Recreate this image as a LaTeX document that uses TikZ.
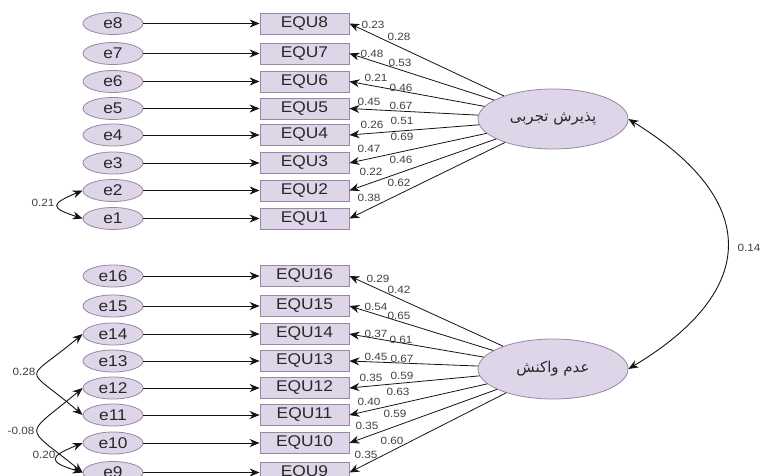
\documentclass[tikz,border=0pt]{standalone}
\usepackage{fontspec}
\setmainfont{Liberation Sans}[FakeStretch=1.12]
\newfontfamily\arabicfont[Script=Arabic]{DejaVu Sans}
\TeXXeTstate=1
\usetikzlibrary{arrows.meta,shapes.geometric}
\definecolor{nodefill}{RGB}{222,214,232}
\definecolor{nodedraw}{RGB}{150,136,166}
\definecolor{txt}{RGB}{40,40,40}
\definecolor{lbltxt}{RGB}{65,65,65}
\definecolor{arrcol}{RGB}{20,20,20}
\tikzset{
  errnode/.style={ellipse, draw=nodedraw, fill=nodefill, minimum width=60pt, minimum height=22pt, inner sep=0pt, line width=0.8pt, text=txt, font=\fontsize{15.5}{15.5}\selectfont},
  obsnode/.style={rectangle, draw=nodedraw, fill=nodefill, minimum width=89pt, minimum height=21pt, inner sep=0pt, line width=0.8pt, text=txt, font=\fontsize{15.5}{15.5}\selectfont},
  latnode/.style={ellipse, draw=nodedraw, fill=nodefill, minimum width=150pt, minimum height=60pt, inner sep=0pt, line width=0.8pt, text=txt, font=\arabicfont\fontsize{15}{15}\selectfont},
  arr/.style={-{Stealth[length=10pt,width=8pt]}, line width=0.8pt, draw=arrcol},
  cov/.style={{Stealth[length=10pt,width=8pt]}-{Stealth[length=10pt,width=8pt]}, line width=0.9pt, draw=arrcol},
  lbl/.style={inner sep=0pt, text=lbltxt, font=\fontsize{10.5}{10.5}\selectfont}
}
\begin{document}
\begin{tikzpicture}[x=1pt,y=-1pt]
\useasboundingbox (0,0) rectangle (760,476);
\fill[white] (0,0) rectangle (760,476);
\clip (0,0) rectangle (760,476);
% latent variables
\node[latnode] (L1) at (553,119) {\beginR پذیرش تجربی\endR};
\node[latnode] (L2) at (553,369) {\beginR عدم واکنش\endR};
% indicators and errors
\foreach \i/\y in {8/23.5,7/53.5,6/81.5,5/108.5,4/135,3/163,2/190.5,1/218.5,16/276,15/306,14/334,13/361,12/388,11/415,10/443,9/472.5}{
  \node[errnode] (e\i) at (113,\y) {e\i};
  \node[obsnode] (q\i) at (304.5,\y) {EQU\i};
  \draw[arr] (e\i) -- (q\i);
}
\foreach \i in {1,...,8}{ \draw[arr] (L1) -- (q\i.east); }
\foreach \i in {9,...,16}{ \draw[arr] (L2) -- (q\i.east); }
% loadings (top)
\node[lbl] (a8) at (373,25) {0.23};  \node[lbl] (b8) at (399,37) {0.28};
\node[lbl] (a7) at (372,54) {0.48};  \node[lbl] (b7) at (400,63) {0.53};
\node[lbl] (a6) at (376,78) {0.21};  \node[lbl] (b6) at (401,88) {0.46};
\node[lbl] (a5) at (369,102) {0.45}; \node[lbl] (b5) at (401,106) {0.67};
\node[lbl] (a4) at (372,125) {0.26}; \node[lbl] (b4) at (402,121) {0.51};
\node[lbl] (a3) at (369,149) {0.47}; \node[lbl] (b3) at (402,137) {0.69};
\node[lbl] (a2) at (371,172) {0.22}; \node[lbl] (b2) at (401,160) {0.46};
\node[lbl] (a1) at (369,198) {0.38}; \node[lbl] (b1) at (399,183) {0.62};
% loadings (bottom)
\node[lbl] (a16) at (378,279) {0.29}; \node[lbl] (b16) at (399,290) {0.42};
\node[lbl] (a15) at (376,307) {0.54}; \node[lbl] (b15) at (399,316) {0.65};
\node[lbl] (a14) at (376,334) {0.37}; \node[lbl] (b14) at (401,340) {0.61};
\node[lbl] (a13) at (376,357) {0.45}; \node[lbl] (b13) at (402,359) {0.67};
\node[lbl] (a12) at (371,378) {0.35}; \node[lbl] (b12) at (402,376) {0.59};
\node[lbl] (a11) at (369,402) {0.40}; \node[lbl] (b11) at (398,392) {0.63};
\node[lbl] (a10) at (367,426) {0.35}; \node[lbl] (b10) at (395,414) {0.59};
\node[lbl] (a9) at (366,455) {0.35};  \node[lbl] (b9) at (392,441) {0.60};
% covariances
\draw[cov] (e2.west) .. controls (50,204) and (50,208) .. (e1.west);
\node[lbl] (c21) at (43,203) {0.21};
\draw[cov] (e14.west) .. controls (23,384) and (23,364) .. (e11.west);
\node[lbl] (c1411) at (24,372) {0.28};
\draw[cov] (e12.west) .. controls (23,438) and (23,424) .. (e9.west);
\node[lbl] (c129) at (21,431) {-0.08};
\draw[cov] (e10.west) .. controls (48,457) and (48,462) .. (e9.west);
\node[lbl] (c109) at (44,455) {0.20};
\draw[cov] (L1.east) .. controls (760,200) and (760,290) .. (L2.east);
\node[lbl] (cL) at (749,248) {0.14};
\end{tikzpicture}
\end{document}
